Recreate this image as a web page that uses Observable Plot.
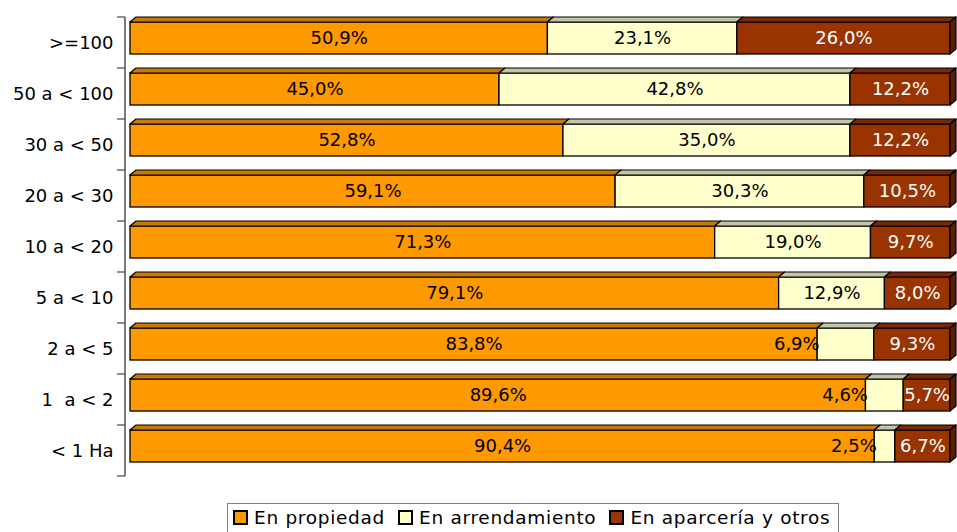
<!DOCTYPE html>
<html>
<head>
<meta charset="utf-8">
<script src="https://cdn.jsdelivr.net/npm/d3@7"></script>
<script src="https://cdn.jsdelivr.net/npm/@observablehq/plot@0.6"></script>
<style>
  html, body { margin: 0; padding: 0; background: #fff; }
  #chart svg { display: block; }
  #legend {
    margin-left: 227px; margin-top: 8px;
    display: inline-flex; align-items: center;
    border: 1px solid #808080;
    padding: 3px 8px 8px 5px;
    font-family: "DejaVu Sans", sans-serif; font-size: 18.5px; letter-spacing: 0.7px;
    color: #000;
  }
  .item { display: inline-flex; align-items: center; margin-right: 13px; }
  .item:last-child { margin-right: 0; }
  .sw { width: 11px; height: 11px; border: 2px solid #000; margin-right: 6px; }
</style>
</head>
<body>
<div id="chart"></div>
<div id="legend"></div>
<script>
// ---- data ----
const categories = [">=100", "50 a < 100", "30 a < 50", "20 a < 30", "10 a < 20", "5 a < 10", "2 a < 5", "1\u00a0 a < 2", "< 1 Ha"];
const seriesNames = ["En propiedad", "En arrendamiento", "En aparcería y otros"];
const propiedad     = [50.9, 45.0, 52.8, 59.1, 71.3, 79.1, 83.8, 89.6, 90.4];
const arrendamiento = [23.1, 42.8, 35.0, 30.3, 19.0, 12.9, 6.9, 4.6, 2.5];
const aparceria     = [26.0, 12.2, 12.2, 10.5, 9.7, 8.0, 9.3, 5.7, 6.7];
const colors    = ["#FF9900", "#FFFFCC", "#993300"];
const topColors = ["#C97800", "#C4C4A6", "#7A2900"];
const sideColor = "#5A1E00";

// ---- table ----
const seriesValues = [propiedad, arrendamiento, aparceria];
const data = [];
categories.forEach((c, i) => {
  seriesNames.forEach((s, k) => data.push({cat: c, series: s, k, value: seriesValues[k][i]}));
});
const fmt = v => v.toFixed(1).replace(".", ",") + "%";
const isSmall = d => d.k === 1 && d.value < 8;

// ---- layout ----
const W = 957, H = 495;
const mTop = 15, mBottom = 18, mLeft = 130, mRight = 7;
const insetTop = 5, insetBottom = 14;
const depthX = 6, depthY = 5;
const font = "DejaVu Sans, sans-serif";
const labelSize = 18, labelSpacing = 1.3;

function deco(index, scales) {
  const x = scales.x, y = scales.y;
  const step = y(categories[1]) - y(categories[0]);
  const g = d3.create("svg:g");
  // 3D top faces and side
  categories.forEach((c, i) => {
    const total = seriesValues.reduce((a, s) => a + s[i], 0);
    let cum = 0;
    const T = y(c) + insetTop, B = y(c) + step - insetBottom;
    seriesValues.forEach((s, k) => {
      const X1 = x(cum / total); cum += s[i]; const X2 = x(cum / total);
      g.append("polygon")
        .attr("points", [[X1, T], [X2, T], [X2 + depthX, T - depthY], [X1 + depthX, T - depthY]].join(" "))
        .attr("fill", topColors[k]).attr("stroke", "#000").attr("stroke-width", 1.2).attr("stroke-linejoin", "round");
      if (k === seriesValues.length - 1) {
        g.append("polygon")
          .attr("points", [[X2, T], [X2 + depthX, T - depthY], [X2 + depthX, B - depthY], [X2, B]].join(" "))
          .attr("fill", sideColor).attr("stroke", "#000").attr("stroke-width", 1.2).attr("stroke-linejoin", "round");
      }
    });
  });
  // category axis with ticks between categories
  const ax = x(0) - 5;
  const y0 = y(categories[0]), yN = y(categories[categories.length - 1]) + step;
  g.append("line").attr("x1", ax).attr("x2", ax).attr("y1", y0).attr("y2", yN).attr("stroke", "#222").attr("stroke-width", 1.2);
  for (let i = 0; i <= categories.length; i++) {
    const ty = i < categories.length ? y(categories[i]) : yN;
    g.append("line").attr("x1", ax - 8).attr("x2", ax).attr("y1", ty).attr("y2", ty).attr("stroke", "#444").attr("stroke-width", 1.2);
  }
  return g.node();
}

const stackOpts = {x: "value", y: "cat", z: "series", offset: "normalize"};
const textOpts = {fontSize: labelSize, letterSpacing: labelSpacing, dy: (insetTop - insetBottom) / 2};

const plot = Plot.plot({
  width: W, height: H,
  marginTop: mTop, marginBottom: mBottom, marginLeft: mLeft, marginRight: mRight,
  style: {fontFamily: font, fontSize: "18px", color: "#000", background: "#fff"},
  x: {axis: null, domain: [0, 1]},
  y: {domain: categories, padding: 0, tickSize: 0, tickPadding: 17, label: null},
  color: {domain: seriesNames, range: colors},
  marks: [
    Plot.barX(data, Plot.stackX({...stackOpts, fill: "series", stroke: "#000", strokeWidth: 1.3,
      insetTop, insetBottom, insetLeft: 0, insetRight: 0})),
    deco,
    Plot.text(data, Plot.stackX({...stackOpts, ...textOpts, text: d => (d.k < 2 && !isSmall(d)) ? fmt(d.value) : "",
      fill: "#000"})),
    Plot.text(data, Plot.stackX({...stackOpts, ...textOpts, text: d => d.k === 2 ? fmt(d.value) : "",
      fill: "#fff"})),
    Plot.text(data, Plot.stackX1({...stackOpts, ...textOpts, text: d => isSmall(d) ? fmt(d.value) : "",
      fill: "#000", textAnchor: "end", dx: 2}))
  ]
});
document.getElementById("chart").appendChild(plot);

// ---- legend ----
const legend = document.getElementById("legend");
seriesNames.forEach((s, k) => {
  const it = document.createElement("span"); it.className = "item";
  const sw = document.createElement("span"); sw.className = "sw"; sw.style.background = colors[k];
  const tx = document.createElement("span"); tx.textContent = s;
  it.appendChild(sw); it.appendChild(tx); legend.appendChild(it);
});
</script>
</body>
</html>
